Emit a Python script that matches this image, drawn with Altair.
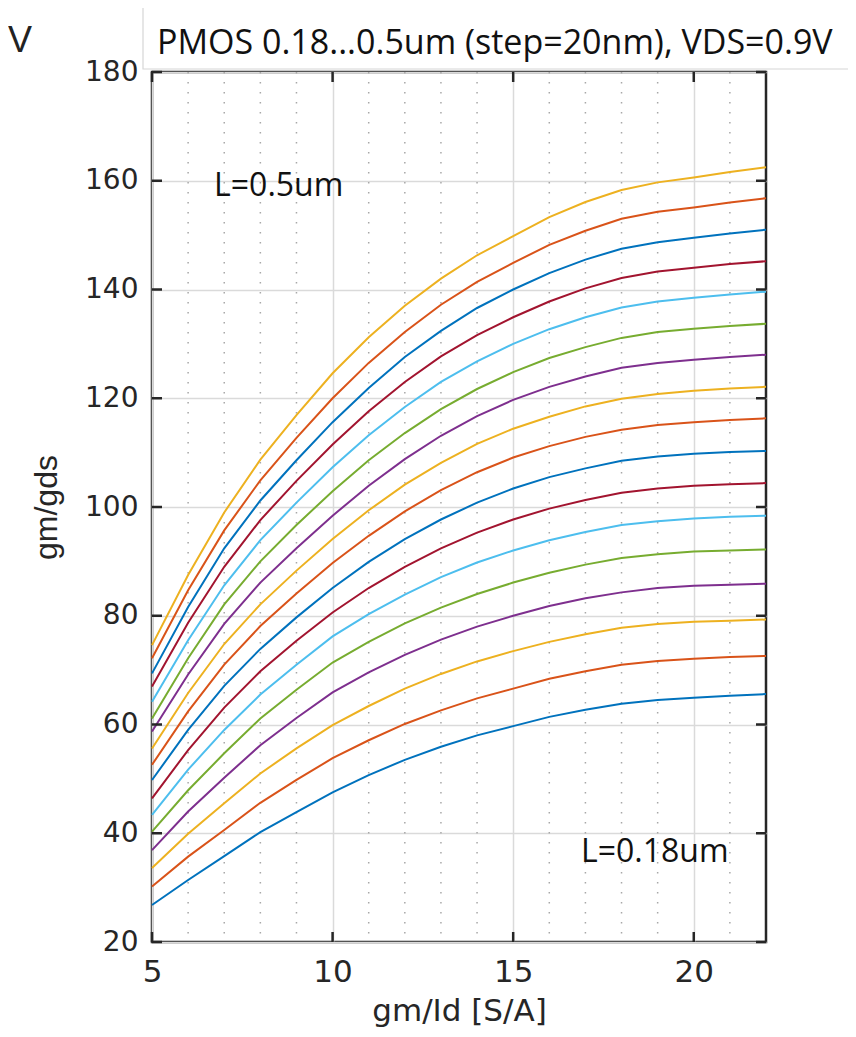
import altair as alt
import pandas as pd

# ---------------- data ----------------
gm_id = [5, 6, 7, 8, 9, 10, 11, 12, 13, 14, 15, 16, 17, 18, 19, 20, 21, 22]

L_labels = ["0.18", "0.20", "0.22", "0.24", "0.26", "0.28", "0.30", "0.32", "0.34",
            "0.36", "0.38", "0.40", "0.42", "0.44", "0.46", "0.48", "0.50"]

L018 = [26.8, 31.4, 35.8, 40.2, 43.9, 47.5, 50.7, 53.5, 55.9, 58.0, 59.7, 61.4, 62.7, 63.8, 64.5, 64.9, 65.3, 65.6]
L020 = [30.2, 35.7, 40.6, 45.6, 49.8, 53.8, 57.1, 60.1, 62.6, 64.8, 66.6, 68.4, 69.8, 71.0, 71.7, 72.1, 72.4, 72.6]
L022 = [33.6, 39.9, 45.5, 51.0, 55.6, 59.9, 63.4, 66.6, 69.3, 71.6, 73.5, 75.2, 76.6, 77.8, 78.5, 78.9, 79.1, 79.3]
L024 = [36.9, 44.0, 50.2, 56.2, 61.2, 65.9, 69.6, 72.8, 75.6, 78.0, 80.0, 81.8, 83.2, 84.3, 85.1, 85.5, 85.7, 85.9]
L026 = [40.3, 47.9, 54.7, 61.1, 66.4, 71.4, 75.2, 78.6, 81.5, 84.0, 86.1, 87.9, 89.4, 90.6, 91.3, 91.8, 92.0, 92.2]
L028 = [43.4, 51.7, 59.0, 65.5, 71.0, 76.2, 80.3, 83.9, 87.1, 89.8, 92.0, 93.9, 95.4, 96.7, 97.4, 97.9, 98.2, 98.4]
L030 = [46.4, 55.3, 63.1, 69.8, 75.4, 80.6, 85.1, 89.0, 92.4, 95.3, 97.7, 99.7, 101.3, 102.6, 103.4, 103.9, 104.2, 104.4]
L032 = [49.8, 59.0, 67.1, 73.9, 79.7, 85.1, 89.9, 94.1, 97.7, 100.8, 103.4, 105.5, 107.1, 108.5, 109.3, 109.8, 110.1, 110.3]
L034 = [52.6, 62.4, 71.0, 78.1, 84.1, 89.7, 94.7, 99.2, 103.1, 106.4, 109.1, 111.2, 112.9, 114.2, 115.1, 115.6, 116.0, 116.3]
L036 = [55.6, 65.8, 74.8, 82.1, 88.3, 94.1, 99.4, 104.1, 108.1, 111.6, 114.4, 116.6, 118.5, 119.9, 120.8, 121.4, 121.8, 122.1]
L038 = [58.7, 69.2, 78.5, 86.1, 92.4, 98.4, 103.9, 108.8, 113.1, 116.7, 119.7, 122.1, 124.0, 125.6, 126.5, 127.1, 127.6, 128.0]
L040 = [61.1, 72.2, 82.1, 90.0, 96.7, 102.9, 108.6, 113.6, 118.0, 121.7, 124.8, 127.4, 129.4, 131.1, 132.2, 132.8, 133.3, 133.7]
L042 = [64.2, 75.5, 85.6, 93.9, 100.8, 107.3, 113.2, 118.4, 123.0, 126.8, 130.0, 132.7, 134.9, 136.7, 137.8, 138.5, 139.1, 139.6]
L044 = [67.0, 78.7, 89.0, 97.6, 104.8, 111.5, 117.6, 123.0, 127.7, 131.6, 134.9, 137.8, 140.2, 142.1, 143.3, 144.0, 144.7, 145.2]
L046 = [69.4, 81.6, 92.4, 101.2, 108.6, 115.6, 121.9, 127.6, 132.4, 136.6, 140.0, 143.0, 145.5, 147.5, 148.7, 149.5, 150.3, 151.0]
L048 = [72.2, 84.7, 95.7, 104.9, 112.7, 120.0, 126.5, 132.2, 137.2, 141.4, 144.9, 148.2, 150.8, 153.0, 154.3, 155.1, 156.0, 156.8]
L050 = [74.6, 87.5, 99.0, 108.7, 116.9, 124.6, 131.2, 137.0, 142.0, 146.3, 149.8, 153.3, 156.1, 158.3, 159.7, 160.6, 161.6, 162.5]

series = [L018, L020, L022, L024, L026, L028, L030, L032, L034,
          L036, L038, L040, L042, L044, L046, L048, L050]

x_major = [5, 10, 15, 20]
x_minor = [6, 7, 8, 9, 11, 12, 13, 14, 16, 17, 18, 19, 21]
y_major = [20, 40, 60, 80, 100, 120, 140, 160, 180]

title_text = "PMOS 0.18...0.5um (step=20nm), VDS=0.9V"
label_top = "L=0.5um"
label_bottom = "L=0.18um"

# ---------------- build table ----------------
rows = []
for lab, ys in zip(L_labels, series):
    for xv, yv in zip(gm_id, ys):
        rows.append({"gm_id": xv, "gm_gds": yv, "L": lab})
df = pd.DataFrame(rows)

matlab = ["#0072BD", "#D95319", "#EDB120", "#7E2F8E", "#77AC30", "#4DBEEE", "#A2142F"]
colors = [matlab[i % 7] for i in range(len(L_labels))]

W, H = 614, 870
xs = alt.Scale(domain=[5, 22], nice=False, zero=False)
ys_ = alt.Scale(domain=[20, 180], nice=False, zero=False)

AX = "#262626"

x_axis = alt.Axis(values=x_major, title="gm/Id [S/A]", grid=True, tickSize=0,
                  labelFont="DejaVu Sans", labelFontSize=31, labelPadding=15,
                  labelFlush=False, labelOverlap=False, labelColor=AX,
                  titleFont="DejaVu Sans", titleFontSize=31, titleFontWeight="normal",
                  titleColor=AX, titleY=78, titleBaseline="alphabetic")
y_axis = alt.Axis(values=y_major, title="gm/gds", grid=True, tickSize=0,
                  labelFont="DejaVu Sans", labelFontSize=28, labelPadding=14,
                  labelFlush=False, labelOverlap=False, labelColor=AX,
                  titleFont="Liberation Sans", titleFontSize=32, titleFontWeight="normal",
                  titleColor=AX, titleAngle=270, titleX=-106, titleY=435,
                  titleAlign="center", titleBaseline="middle")

minor = alt.Chart(pd.DataFrame({"gm_id": x_minor})).mark_rule(
    color="#a8a8a8", strokeWidth=1.5, strokeDash=[1.5, 8.5]
).encode(x=alt.X("gm_id:Q", scale=xs), y=alt.value(0), y2=alt.value(H))

lines = alt.Chart(df).mark_line(strokeWidth=2).encode(
    x=alt.X("gm_id:Q", scale=xs, axis=x_axis),
    y=alt.Y("gm_gds:Q", scale=ys_, axis=y_axis),
    color=alt.Color("L:N", scale=alt.Scale(domain=L_labels, range=colors), legend=None),
)

TK = 10
ytk = pd.DataFrame({"gm_gds": y_major})
xtk = pd.DataFrame({"gm_id": x_major})
tick_style = dict(color=AX, strokeWidth=2.5)
ticks_left = alt.Chart(ytk).mark_rule(**tick_style).encode(
    y=alt.Y("gm_gds:Q", scale=ys_), x=alt.value(0), x2=alt.value(TK))
ticks_right = alt.Chart(ytk).mark_rule(**tick_style).encode(
    y=alt.Y("gm_gds:Q", scale=ys_), x=alt.value(W - TK), x2=alt.value(W))
ticks_top = alt.Chart(xtk).mark_rule(**tick_style).encode(
    x=alt.X("gm_id:Q", scale=xs), y=alt.value(0), y2=alt.value(TK))
ticks_bottom = alt.Chart(xtk).mark_rule(**tick_style).encode(
    x=alt.X("gm_id:Q", scale=xs), y=alt.value(H - TK), y2=alt.value(H))

ann = pd.DataFrame({"gm_id": [6.72, 16.88], "gm_gds": [157.2, 34.7],
                    "txt": [label_top, label_bottom]})
annotations = alt.Chart(ann).mark_text(
    font="Open Sans", fontSize=32, align="left", baseline="alphabetic", color="#111111"
).encode(x=alt.X("gm_id:Q", scale=xs), y=alt.Y("gm_gds:Q", scale=ys_), text="txt:N")

one = pd.DataFrame({"txt": [title_text]})
title_box = alt.Chart(one).mark_rect(fill="white", stroke="#d6d6d6", strokeWidth=1.2).encode(
    x=alt.value(-9), x2=alt.value(W + 120), y=alt.value(-65), y2=alt.value(-3))
title = alt.Chart(one).mark_text(
    font="Open Sans", fontSize=34, align="left", baseline="alphabetic", color="#111111"
).encode(x=alt.value(5), y=alt.value(-18), text="txt:N")
stray = alt.Chart(pd.DataFrame({"txt": ["V"]})).mark_text(
    font="Liberation Sans", fontSize=36, align="left", baseline="alphabetic", color="#222222"
).encode(x=alt.value(-144), y=alt.value(-20), text="txt:N")

chart = alt.layer(
    minor, lines, ticks_left, ticks_right, ticks_top, ticks_bottom,
    annotations, title_box, title, stray
).properties(
    width=W, height=H,
    padding={"left": 144, "top": 64, "right": 82, "bottom": 87},
    autosize=alt.AutoSizeParams(type="none"),
).configure_view(
    stroke=AX, strokeWidth=2.5
).configure_axis(
    domain=False, gridColor="#dadada", gridWidth=1.5
)

chart.save("out.html", embed_options={"renderer": "svg", "actions": False})
